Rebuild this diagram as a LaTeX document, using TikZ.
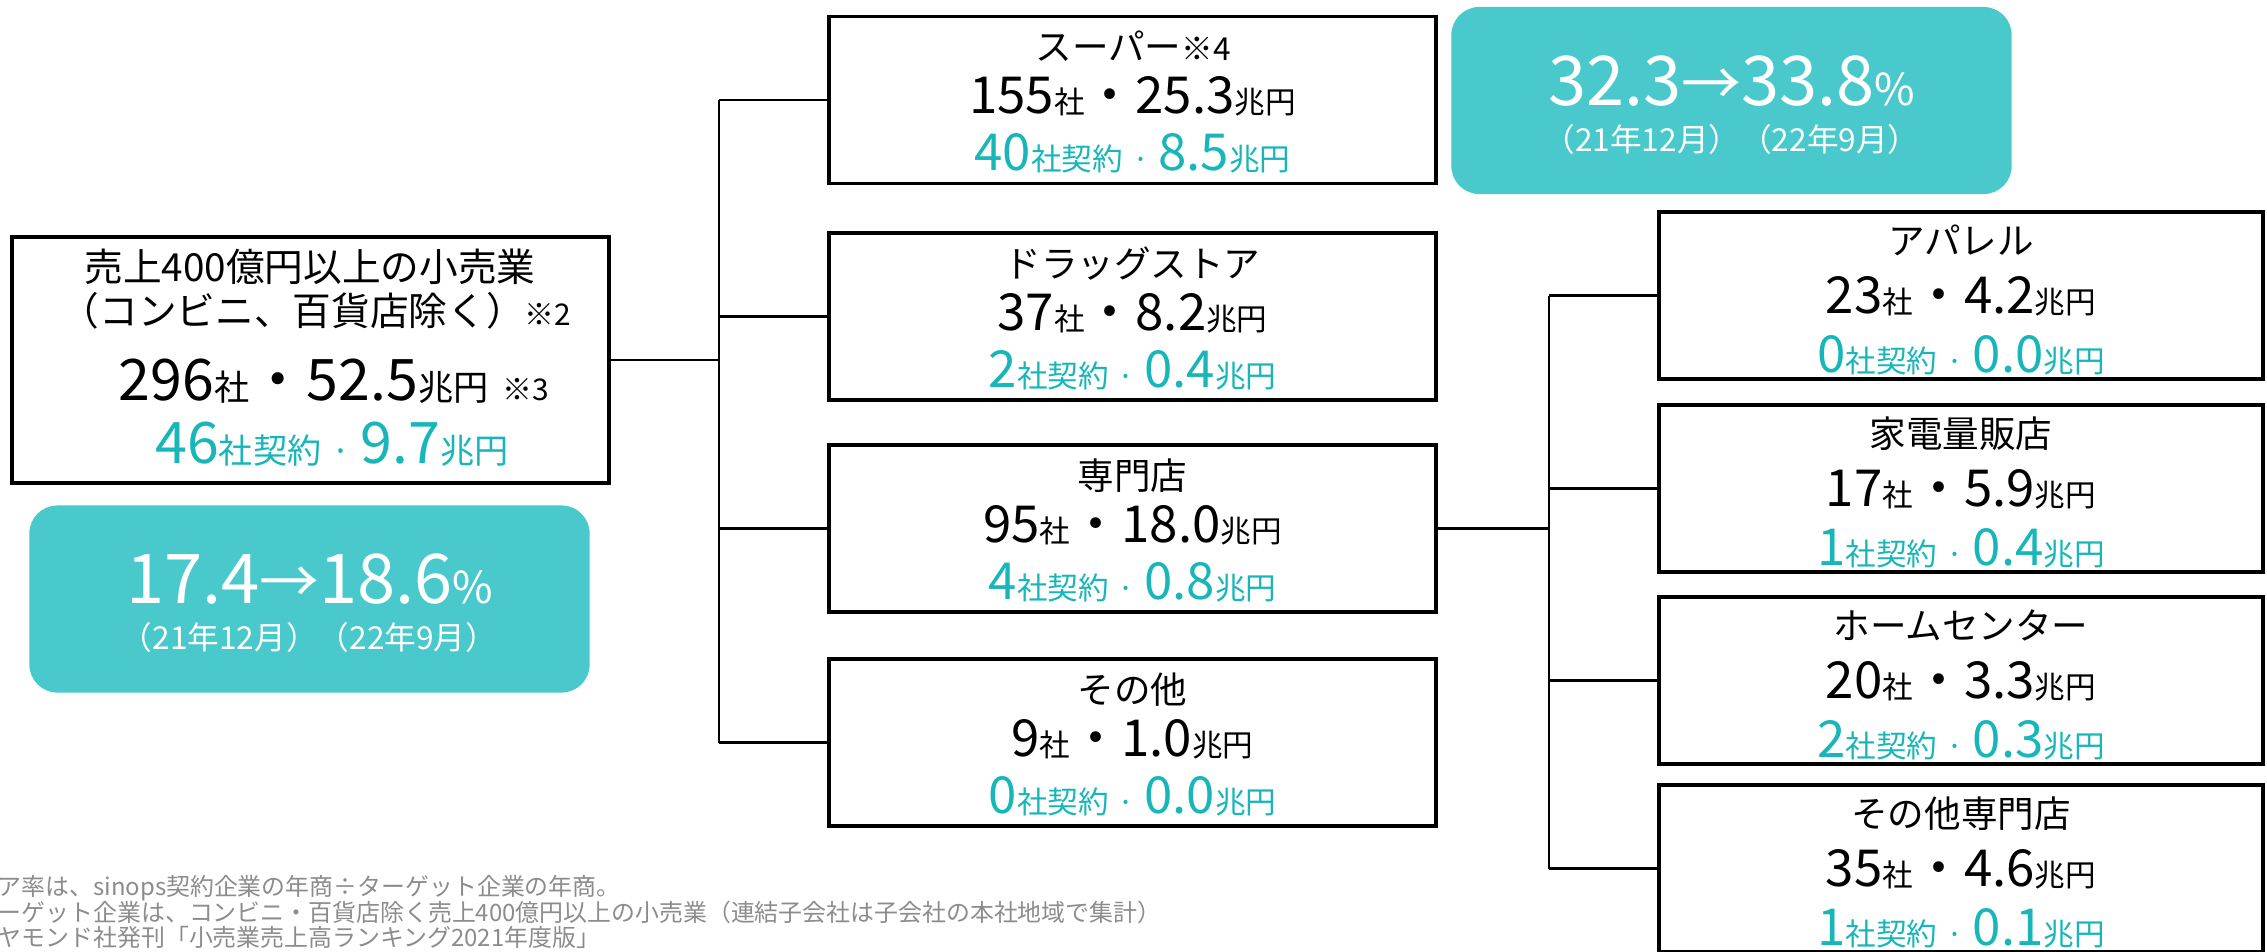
\documentclass[tikz,border=0pt]{standalone}
\usepackage{fontspec}
\setmainfont{Noto Sans CJK JP}
\definecolor{shareteal}{RGB}{73,201,203}
\definecolor{signteal}{RGB}{24,182,185}
\definecolor{notegray}{RGB}{140,140,140}
\newcommand{\fs}[2]{{\fontsize{#1}{#1}\selectfont #2}}

\begin{document}
\begin{tikzpicture}[x=0.01cm, y=-0.01cm,
  catbox/.style={draw, line width=1pt, minimum width=6.07cm, minimum height=1.67cm, inner sep=0},
  subbox/.style={catbox, minimum width=6.04cm},
  mainbox/.style={catbox, minimum width=5.97cm, minimum height=2.46cm},
  sharebox/.style={fill=shareteal, rounded corners=0.28cm, minimum width=5.6cm, minimum height=1.87cm, inner sep=0},
  link/.style={line width=0.6pt},
  txt/.style={anchor=base, inner sep=0},
  ttl/.style={txt, font=\fontsize{10.4}{12}\selectfont},
  num/.style={txt, font=\fontsize{14.5}{16}\selectfont},
  sig/.style={num, text=signteal},
  bignum/.style={txt, font=\fontsize{16.3}{18}\selectfont},
  bigsig/.style={bignum, text=signteal},
  rate/.style={txt, text=white, font=\fontsize{19.5}{21}\selectfont},
  period/.style={txt, text=white, font=\fontsize{9}{11}\selectfont},
  note/.style={anchor=base west, inner sep=0, text=notegray, font=\fontsize{6.8}{8}\selectfont}]
\useasboundingbox (0,0) rectangle (2267,951);
\clip (0,0) rectangle (2267,951);

\node[mainbox] (retail) at (310.5,360) {};
\node[ttl, font=\fontsize{11}{12}\selectfont] (retailT1) at (310,281) {売上400億円以上の小売業};
\node[ttl, font=\fontsize{11}{12}\selectfont] (retailT2) at (316,325) {（コンビニ、百貨店除く）\fs{8.5}{※2}};
\node[bignum] (retailN) at (334,400) {296\fs{10}{社}・52.5\fs{10}{兆円}\hspace{0.25em}\fs{8.5}{※3}};
\node[bigsig] (retailS) at (332,463) {46\fs{9.7}{社契約\hspace{0.3em}·\hspace{0.3em}}9.7\fs{9.7}{兆円}};

\node[sharebox] (shareAll) at (309.5,599) {};
\node[rate] (shareAllV) at (310,603.5) {17.4\fs{17}{→}18.6\fs{12.5}{\%}};
\node[period] (shareAllD) at (309,649) {（21年12月）（22年9月）};

\node[sharebox] (shareSup) at (1731.5,100.5) {};
\node[rate] (shareSupV) at (1731.5,105) {32.3\fs{17}{→}33.8\fs{12.5}{\%}};
\node[period] (shareSupD) at (1731.5,151) {（21年12月）（22年9月）};

\node[catbox] (super) at (1132.5,100) {};
\node[ttl] (superT) at (1133,60.5) {スーパー\fs{9}{※4}};
\node[num] (superN) at (1132.5,113.5) {155\fs{8.7}{社}・25.3\fs{8.7}{兆円}};
\node[sig] (superS) at (1132.5,170.5) {40\fs{8.7}{社契約\hspace{0.3em}·\hspace{0.3em}}8.5\fs{8.7}{兆円}};

\node[catbox] (drug) at (1132.5,316.5) {};
\node[ttl] (drugT) at (1132.5,277) {ドラッグストア};
\node[num] (drugN) at (1132.5,330) {37\fs{8.7}{社}・8.2\fs{8.7}{兆円}};
\node[sig] (drugS) at (1132.5,387) {2\fs{8.7}{社契約\hspace{0.3em}·\hspace{0.3em}}0.4\fs{8.7}{兆円}};

\node[catbox] (spec) at (1132.5,528.5) {};
\node[ttl] (specT) at (1132.5,489) {専門店};
\node[num] (specN) at (1132.5,542) {95\fs{8.7}{社}・18.0\fs{8.7}{兆円}};
\node[sig] (specS) at (1132.5,599) {4\fs{8.7}{社契約\hspace{0.3em}·\hspace{0.3em}}0.8\fs{8.7}{兆円}};

\node[catbox] (other) at (1132.5,742.5) {};
\node[ttl] (otherT) at (1132.5,703) {その他};
\node[num] (otherN) at (1132.5,756) {9\fs{8.7}{社}・1.0\fs{8.7}{兆円}};
\node[sig] (otherS) at (1132.5,813) {0\fs{8.7}{社契約\hspace{0.3em}·\hspace{0.3em}}0.0\fs{8.7}{兆円}};

\node[subbox] (apparel) at (1961,295.5) {};
\node[ttl] (apparelT) at (1961,254) {アパレル};
\node[num] (apparelN) at (1961,313) {23\fs{8.7}{社}・4.2\fs{8.7}{兆円}};
\node[sig] (apparelS) at (1961,372) {0\fs{8.7}{社契約\hspace{0.3em}·\hspace{0.3em}}0.0\fs{8.7}{兆円}};

\node[subbox] (appliance) at (1961,488.5) {};
\node[ttl] (applianceT) at (1961,447) {家電量販店};
\node[num] (applianceN) at (1961,506) {17\fs{8.7}{社}・5.9\fs{8.7}{兆円}};
\node[sig] (applianceS) at (1961,565) {1\fs{8.7}{社契約\hspace{0.3em}·\hspace{0.3em}}0.4\fs{8.7}{兆円}};

\node[subbox] (homectr) at (1961,680.5) {};
\node[ttl] (homectrT) at (1961,639) {ホームセンター};
\node[num] (homectrN) at (1961,698) {20\fs{8.7}{社}・3.3\fs{8.7}{兆円}};
\node[sig] (homectrS) at (1961,757) {2\fs{8.7}{社契約\hspace{0.3em}·\hspace{0.3em}}0.3\fs{8.7}{兆円}};

\node[subbox] (otherspec) at (1961,868.5) {};
\node[ttl] (otherspecT) at (1961,827) {その他専門店};
\node[num] (otherspecN) at (1961,886) {35\fs{8.7}{社}・4.6\fs{8.7}{兆円}};
\node[sig] (otherspecS) at (1961,945) {1\fs{8.7}{社契約\hspace{0.3em}·\hspace{0.3em}}0.1\fs{8.7}{兆円}};

\coordinate (trunkA) at (719,360);
\coordinate (trunkB) at (1549,528.5);
\draw[link] (retail.east) -- (trunkA);
\draw[link] (super.west -| trunkA) -- (other.west -| trunkA);
\draw[link] (trunkA |- super.west) -- (super.west);
\draw[link] (trunkA |- drug.west) -- (drug.west);
\draw[link] (trunkA |- spec.west) -- (spec.west);
\draw[link] (trunkA |- other.west) -- (other.west);
\draw[link] (spec.east) -- (trunkB);
\draw[link] (apparel.west -| trunkB) -- (otherspec.west -| trunkB);
\draw[link] (trunkB |- apparel.west) -- (apparel.west);
\draw[link] (trunkB |- appliance.west) -- (appliance.west);
\draw[link] (trunkB |- homectr.west) -- (homectr.west);
\draw[link] (trunkB |- otherspec.west) -- (otherspec.west);

\node[note] (note1) at (-3,895) {ア率は、sinops契約企業の年商÷ターゲット企業の年商。};
\node[note] (note2) at (-3,921) {ーゲット企業は、コンビニ・百貨店除く売上400億円以上の小売業（連結子会社は子会社の本社地域で集計）};
\node[note] (note3) at (-3,946) {ヤモンド社発刊「小売業売上高ランキング2021年度版」};
\end{tikzpicture}
\end{document}
